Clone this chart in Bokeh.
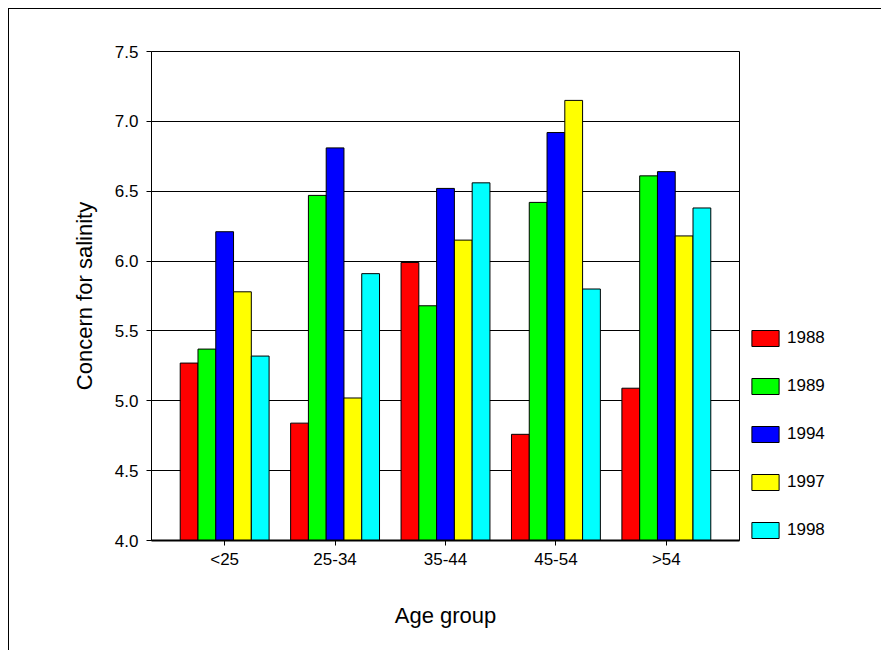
from bokeh.plotting import figure
from bokeh.models import (ColumnDataSource, Range1d, FactorRange, FixedTicker,
                          NumeralTickFormatter, Legend, LegendItem)
from bokeh.transform import dodge
from bokeh.embed import file_html
from bokeh.resources import INLINE

# -----------------------------
# DATA
# -----------------------------
age_groups = ["<25", "25-34", "35-44", "45-54", ">54"]
years = ["1988", "1989", "1994", "1997", "1998"]

v1988 = [5.27, 4.84, 5.99, 4.76, 5.09]
v1989 = [5.37, 6.47, 5.68, 6.42, 6.61]
v1994 = [6.21, 6.81, 6.52, 6.92, 6.64]
v1997 = [5.78, 5.02, 6.15, 7.15, 6.18]
v1998 = [5.32, 5.91, 6.56, 5.80, 6.38]

y_ticks = [4.0, 4.5, 5.0, 5.5, 6.0, 6.5, 7.0, 7.5]

colors = ["#FF0000", "#00FF00", "#0000FF", "#FFFF00", "#00FFFF"]

source = ColumnDataSource(data=dict(
    age=age_groups,
    y1988=v1988,
    y1989=v1989,
    y1994=v1994,
    y1997=v1997,
    y1998=v1998,
))

FONT = "Liberation Sans"

# -----------------------------
# FIGURE
# -----------------------------
p = figure(
    x_range=FactorRange(factors=age_groups, range_padding=0.065),
    y_range=Range1d(4.0, 7.5),
    frame_width=588,
    frame_height=489,
    min_border_left=142,
    min_border_right=142,
    min_border_top=42,
    min_border_bottom=110,
    x_axis_label="Age group",
    y_axis_label="Concern for salinity",
    output_backend="svg",
    toolbar_location=None,
)
# page margin + the thin box around the chart (only left/top are visible)
p.styles = {"margin-left": "8px", "margin-top": "8px",
            "border-left": "1px solid black", "border-top": "1px solid black"}

# -----------------------------
# BARS
# -----------------------------
bar_w = 0.161
items = []
for i, (yr, color) in enumerate(zip(years, colors)):
    off = (i - 2) * bar_w  # side by side inside each age group
    r = p.vbar(x=dodge("age", off, range=p.x_range), top="y" + yr, bottom=4.0,
               width=bar_w, source=source, fill_color=color,
               line_color="black", line_width=1)
    items.append(LegendItem(label=yr, renderers=[r]))

# -----------------------------
# LEGEND
# -----------------------------
legend = Legend(
    items=items,
    location=(9, 0),
    glyph_width=34,
    glyph_height=20,
    label_height=20,
    spacing=28,
    padding=0,
    margin=0,
    label_standoff=5,
    border_line_color=None,
    background_fill_alpha=0,
    label_text_font=FONT,
    label_text_font_size="17px",
    label_text_color="black",
)
p.add_layout(legend, "right")

# -----------------------------
# AXES / STYLE
# -----------------------------
p.yaxis.ticker = FixedTicker(ticks=y_ticks)
p.yaxis.formatter = NumeralTickFormatter(format="0.0")

for ax in (p.xaxis, p.yaxis):
    ax.major_tick_out = 5
    ax.major_tick_in = 0
    ax.minor_tick_out = 0
    ax.minor_tick_in = 0
    ax.axis_line_color = "black"
    ax.major_tick_line_color = "black"
    ax.major_label_text_font = FONT
    ax.major_label_text_font_size = "17px"
    ax.major_label_text_color = "black"
    ax.axis_label_text_font = FONT
    ax.axis_label_text_font_size = "22px"
    ax.axis_label_text_font_style = "normal"
    ax.axis_label_text_color = "black"

p.xaxis.axis_line_width = 2
p.xaxis.major_label_standoff = 4
p.xaxis.axis_label_standoff = 31
p.yaxis.major_label_standoff = 8
p.yaxis.axis_label_standoff = 15

p.xgrid.grid_line_color = None
p.ygrid.grid_line_color = "black"
p.ygrid.grid_line_alpha = 1
p.outline_line_color = "black"
p.outline_line_alpha = 1
p.background_fill_color = "white"
p.border_fill_color = "white"

open("out.html", "w").write(file_html(p, INLINE))
